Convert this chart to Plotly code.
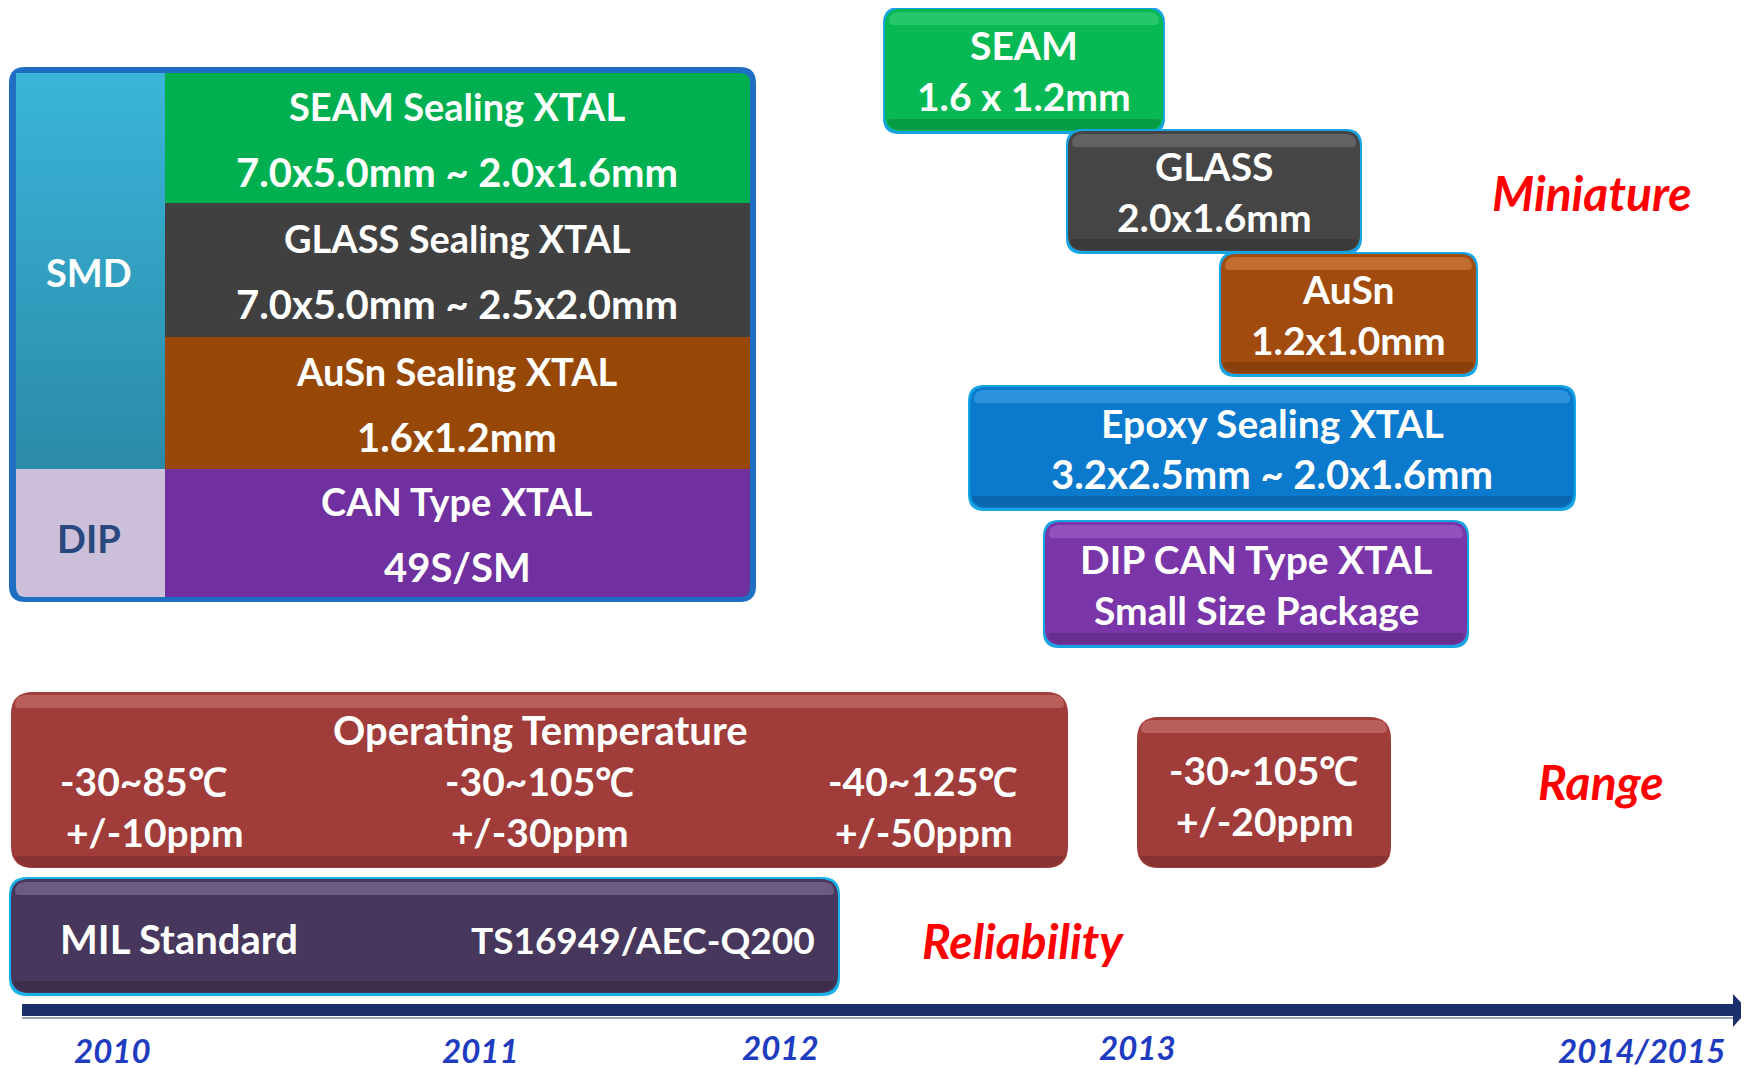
import plotly.graph_objects as go

W, H = 1749, 1069
OFF = 8  # browser default body margin

# ---------------- data ----------------
years = ["2010", "2011", "2012", "2013", "2014/2015"]
package_groups = ["SMD", "DIP"]
package_names = ["SEAM Sealing XTAL", "GLASS Sealing XTAL", "AuSn Sealing XTAL", "CAN Type XTAL"]
package_sizes = ["7.0x5.0mm ~ 2.0x1.6mm", "7.0x5.0mm ~ 2.5x2.0mm", "1.6x1.2mm", "49S/SM"]
mini_names = ["SEAM", "GLASS", "AuSn", "Epoxy Sealing XTAL", "DIP CAN Type XTAL"]
mini_sizes = ["1.6 x 1.2mm", "2.0x1.6mm", "1.2x1.0mm", "3.2x2.5mm ~ 2.0x1.6mm", "Small Size Package"]
temp_ranges = ["-30~85℃", "-30~105℃", "-40~125℃"]
temp_ppm = ["+/-10ppm", "+/-30ppm", "+/-50ppm"]
future_temp = ["-30~105℃"]
future_ppm = ["+/-20ppm"]
reliability_std = ["MIL Standard", "TS16949/AEC-Q200"]
side_labels = ["Miniature", "Range", "Reliability"]

# ---------------- layout geometry / styles ----------------
FONT = "Lato, Liberation Sans, sans-serif"
FS = 39

year_x = [112, 480, 780, 1137, 1641]
year_y = [1050, 1050, 1047, 1047, 1050]

left_box = (9, 67, 756, 602)
row_edges = [73, 203, 337, 469, 597]
col_x = (16, 165, 750)
cell_colors = ["#00b050", "#404040", "#974806", "#7030a0"]
text_cx = 457

mini_boxes = [
    (885, 9, 1163, 131),
    (1068, 131, 1360, 251),
    (1221, 254, 1476, 374),
    (970, 387, 1574, 508),
    (1045, 522, 1467, 645),
]
mini_colors = ["#08b852", "#454545", "#a14c0e", "#0b79cc", "#7a35a8"]
mini_hi = ["#3fd47e", "#7a7a7a", "#d98a4c", "#4aa8ea", "#a56ad0"]

temp_box = (11, 692, 1068, 868)
temp_box2 = (1137, 717, 1391, 868)
temp_range_x = [143, 539, 922]
temp_ppm_x = [155, 540, 924]
mil_box = (11, 879, 838, 993)

shapes = []
annotations = []


def rpath(x0, y0, x1, y1, r=(14, 14, 14, 14)):
    tl, tr, br, bl = r
    return (f"M{x0+tl},{y0} L{x1-tr},{y0} Q{x1},{y0} {x1},{y0+tr} "
            f"L{x1},{y1-br} Q{x1},{y1} {x1-br},{y1} L{x0+bl},{y1} "
            f"Q{x0},{y1} {x0},{y1-bl} L{x0},{y0+tl} Q{x0},{y0} {x0+tl},{y0} Z")


def add_path(path, fill, line_color=None, width=0, opacity=1.0):
    shapes.append(dict(type="path", path=path, xref="x", yref="y",
                       fillcolor=fill, opacity=opacity,
                       line=dict(color=line_color or fill, width=width),
                       layer="below"))


def add_text(x, y, text, size=FS, color="white", xanchor="center", italic=False):
    t = f"<b>{text}</b>"
    if italic:
        t = f"<i>{t}</i>"
    annotations.append(dict(x=x, y=y, xref="x", yref="y", text=t, showarrow=False,
                            xanchor=xanchor, yanchor="middle",
                            font=dict(family=FONT, size=size, color=color)))


def bevel_box(b, color, hi, border=None, r=16):
    x0, y0, x1, y1 = b
    if border:
        add_path(rpath(x0 - 2, y0 - 2, x1 + 2, y1 + 3, (r, r, r, r)), border)
    add_path(rpath(x0, y0, x1, y1, (r, r, r, r)), color)
    add_path(rpath(x0 + 4, y0 + 3, x1 - 4, y0 + 16, (10, 10, 4, 4)), hi, opacity=0.55)
    add_path(rpath(x0 + 2, y1 - 12, x1 - 2, y1 - 1, (4, 4, r - 2, r - 2)), "#000000", opacity=0.15)


fig = go.Figure()

# ---------------- left table ----------------
X0, X1, X2 = col_x
add_path(rpath(*left_box, (16, 16, 16, 16)), "#1e6fc2")

smd_y0, smd_y1 = row_edges[0], row_edges[3]
fig.add_trace(go.Scatter(
    x=[X0, X1, X1, X0, X0], y=[smd_y0, smd_y0, smd_y1, smd_y1, smd_y0],
    mode="lines", line=dict(width=0), fill="toself",
    fillgradient=dict(type="vertical", colorscale=[[0, "#3ab5da"], [1, "#2b8aa8"]],
                      start=smd_y0, stop=smd_y1),
    hoverinfo="skip", showlegend=False))
add_path(rpath(X0, row_edges[3], X1, row_edges[4], (0, 0, 0, 10)), "#cbbfd9")
for i, c in enumerate(cell_colors):
    r = (0, 10 if i == 0 else 0, 10 if i == 3 else 0, 0)
    add_path(rpath(X1, row_edges[i], X2, row_edges[i + 1], r), c)
    yc = (row_edges[i] + row_edges[i + 1]) / 2
    add_text(text_cx, yc - 32, package_names[i], size=FS - 1)
    add_text(text_cx, yc + 34, package_sizes[i], size=FS + 1)

add_text(89, 272, package_groups[0], size=38)
add_text(89, 538, package_groups[1], size=38, color="#28487e")

# ---------------- miniature boxes ----------------
for i, b in enumerate(mini_boxes):
    bevel_box(b, mini_colors[i], mini_hi[i], border="#16a4e2")
    cx = (b[0] + b[2]) / 2
    cy = (b[1] + b[3]) / 2
    add_text(cx, cy - 25, mini_names[i])
    add_text(cx, cy + 26, mini_sizes[i], size=FS + (1 if "~" in mini_sizes[i] else 0))

# ---------------- temperature boxes ----------------
bevel_box(temp_box, "#a03c3a", "#cf7a76", r=22)
add_text(540, 730, "Operating Temperature", size=40)
for i in range(3):
    add_text(temp_range_x[i], 781, temp_ranges[i])
    add_text(temp_ppm_x[i], 832, temp_ppm[i])

bevel_box(temp_box2, "#a03c3a", "#cf7a76", r=22)
add_text(1263, 770, future_temp[0])
add_text(1265, 821, future_ppm[0])

# ---------------- reliability box ----------------
bevel_box(mil_box, "#48375c", "#8a7aa0", border="#19b2e8", r=18)
add_text(58, 939, reliability_std[0], xanchor="left", size=40)
add_text(817, 939, reliability_std[1], xanchor="right", size=37)

# ---------------- side labels ----------------
add_text(1592, 192, side_labels[0], size=48, color="#ff0000", italic=True)
add_text(1601, 781, side_labels[1], size=48, color="#ff0000", italic=True)
add_text(1023, 940, side_labels[2], size=48, color="#ff0000", italic=True)

# ---------------- timeline arrow ----------------
shapes.append(dict(type="line", x0=22, x1=1736, y0=1010, y1=1010, xref="x", yref="y",
                   line=dict(color="#1b2f6a", width=12), layer="below"))
shapes.append(dict(type="line", x0=22, x1=1736, y0=1018, y1=1018, xref="x", yref="y",
                   line=dict(color="#9aa3b8", width=2), layer="below"))
add_path("M1733,994 L1748,1010 L1733,1027 Z", "#1b2f6a")

for yx, yy, yl in zip(year_x, year_y, years):
    add_text(yx, yy, yl, size=33, color="#1f3cc0", italic=True)

fig.update_layout(
    width=W - OFF, height=H - OFF, margin=dict(l=0, r=0, t=0, b=0),
    paper_bgcolor="white", plot_bgcolor="white",
    xaxis=dict(range=[OFF, W], visible=False, fixedrange=True),
    yaxis=dict(range=[H, OFF], visible=False, fixedrange=True),
    shapes=shapes, annotations=annotations, showlegend=False,
)
fig.write_html("out.html")
